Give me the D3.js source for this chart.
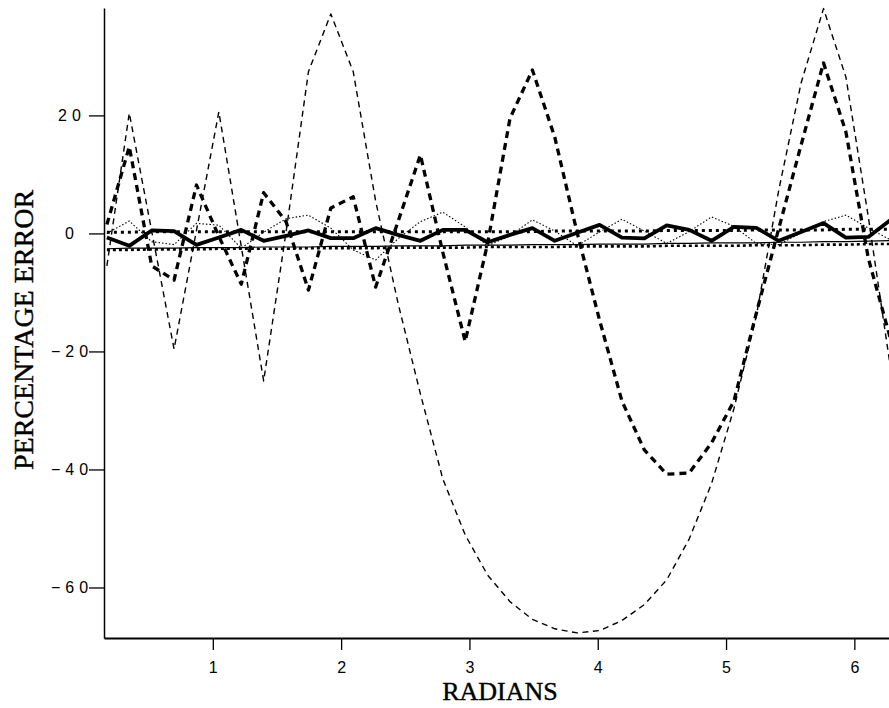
<!DOCTYPE html>
<html>
<head>
<meta charset="utf-8">
<script src="https://cdnjs.cloudflare.com/ajax/libs/d3/7.8.5/d3.min.js"></script>
<style>
  body { margin: 0; background: #fff; }
  .tick text { font-family: "Liberation Sans", Arial, sans-serif; }
</style>
</head>
<body>
<div id="chart"></div>
<script>
// sample angles (degrees), one point every 10 degrees
var degrees = [10,20,30,40,50,60,70,80,90,100,110,120,130,140,150,160,170,180,
               190,200,210,220,230,240,250,260,270,280,290,300,310,320,330,340,350,360];

var thinDashed = [-5.5,20.4,0.4,-19.6,0.5,20.6,-2.2,-25,0.2,27.4,37.2,27.4,5.5,-11.8,-27.2,-41.6,-51.1,-57.9,
                  -62.4,-65.4,-67,-67.7,-67.3,-65.6,-62.9,-58.7,-51.8,-42.4,-29.7,-14,7.3,25.5,38.1,26.5,2.8,-23];
var thickDashed = [1.5,14.7,-5.5,-7.9,8.2,-0.5,-8.6,6.9,2.0,-9.6,4.3,6.2,-9.1,2.0,13.3,-3.2,-18.3,-1.7,
                   19.5,27.7,16.3,0.1,-14.7,-28.4,-36.7,-40.8,-40.6,-35.5,-28.4,-13.5,0.8,15,28.9,17.2,-4.2,-18];
var thickSolid = [-0.7,-2.1,0.5,0.4,-1.95,-0.7,0.6,-1.25,-0.4,0.5,-0.8,-0.8,0.9,-0.25,-1.25,0.6,0.6,-1.5,
                  -0.25,0.9,-1.25,0.1,1.45,-0.7,-0.85,1.35,0.6,-1.25,1.1,0.95,-1.25,0.25,1.75,-0.7,-0.6,2.3];
var thinDotted = [0,2.1,-1.4,-1.9,1.7,1.4,-2.5,0.2,2.5,3.1,0.9,-2.8,-4.5,-0.9,2.0,3.6,1.1,-2.1,
                  -0.4,2.3,0.4,-2.1,0.25,2.4,0.4,-1.7,0.3,2.8,1.2,-1.7,-1.9,0.1,2.0,3.1,0.9,-1.1];
var upperDotted = [0.2,0.2,0.3,0.3,0.3,0.3,0.3,0.3,0.3,0.3,0.3,0.3,0.3,0.3,0.3,0.3,0.3,0.3,
                   0.3,0.3,0.4,0.4,0.4,0.4,0.4,0.5,0.5,0.5,0.5,0.6,0.6,0.6,0.6,0.7,0.7,0.7];
var lowerDotted = [-2.8,-2.8,-2.7,-2.7,-2.7,-2.6,-2.6,-2.6,-2.6,-2.5,-2.5,-2.5,-2.5,-2.4,-2.4,-2.4,-2.4,-2.3,
                   -2.3,-2.3,-2.3,-2.2,-2.2,-2.2,-2.2,-2.1,-2.1,-2.1,-2.1,-2.0,-2.0,-2.0,-1.9,-1.9,-1.8,-1.8];
var thinSolid = [-2.6,-2.5,-2.5,-2.5,-2.4,-2.4,-2.4,-2.3,-2.3,-2.3,-2.2,-2.2,-2.2,-2.1,-2.1,-2.1,-2.0,-2.0,
                 -2.0,-1.9,-1.9,-1.9,-1.8,-1.8,-1.8,-1.7,-1.7,-1.6,-1.6,-1.6,-1.5,-1.5,-1.4,-1.4,-1.3,-1.2];

var xTicks = [1, 2, 3, 4, 5, 6];
var yTicks = [20, 0, -20, -40, -60];

var w = 889;
var h = 708;

var x = d3.scaleLinear().domain([0.152, 6.27]).range([104, 889]);
var y = d3.scaleLinear().domain([-68.56, 38.2]).range([638, 8]);

var svg = d3.select('#chart')
  .append("svg")
  .attr("width", w)
  .attr("height", h)
  .style("background", "#fff");

svg.append("clipPath").attr("id", "plotclip")
  .append("rect")
  .attr("x", 104).attr("y", 0)
  .attr("width", 889 - 104).attr("height", 640);

// series, drawn from the bottom layer up
var series = [
  {values: thinSolid,   width: 1.2, dash: null},
  {values: lowerDotted, width: 2.6, dash: "3,3"},
  {values: upperDotted, width: 3,   dash: "3,4"},
  {values: thinDotted,  width: 1.1, dash: "1.5,2"},
  {values: thinDashed,  width: 1.4, dash: "6,4.5"},
  {values: thickDashed, width: 3.3, dash: "7,5"},
  {values: thickSolid,  width: 3.8, dash: null}
];

var line = d3.line()
  .x(function(d) { return x(d[0]); })
  .y(function(d) { return y(d[1]); });

var g = svg.append("g").attr("clip-path", "url(#plotclip)");

series.forEach(function(s) {
  var pts = degrees.map(function(deg, i) {
    return [deg * Math.PI / 180, s.values[i]];
  });
  g.append("path")
    .datum(pts)
    .attr("d", line)
    .attr("fill", "none")
    .attr("stroke", "#000")
    .attr("stroke-width", s.width)
    .attr("stroke-linejoin", "round")
    .attr("stroke-dasharray", s.dash);
});

// axes
var yAxis = svg.append("g")
  .attr("transform", "translate(104,0)")
  .call(d3.axisLeft(y).tickValues(yTicks).tickFormat(d3.format("d")).tickSize(15).tickSizeOuter(0));
yAxis.select(".domain").attr("stroke-width", 1.5);
yAxis.selectAll(".tick line").attr("stroke-width", 1.3);
yAxis.selectAll(".tick text")
  .attr("x", -32)
  .attr("text-anchor", "middle")
  .style("font-size", "16px")
  .style("letter-spacing", "5px")
  .attr("fill", "#000");

var xAxis = svg.append("g")
  .attr("transform", "translate(0,638)")
  .call(d3.axisBottom(x).tickValues(xTicks).tickFormat(d3.format("d")).tickSize(12).tickSizeOuter(0));
xAxis.select(".domain").attr("stroke-width", 2);
xAxis.selectAll(".tick line").attr("stroke-width", 1.3);
xAxis.selectAll(".tick text")
  .attr("y", 24)
  .style("font-size", "16px")
  .attr("fill", "#000");

// axis titles
svg.append("text")
  .attr("transform", "translate(33,330) rotate(-90)")
  .attr("text-anchor", "middle")
  .attr("stroke", "#000")
  .attr("stroke-width", 0.4)
  .style("font-family", "'Liberation Serif', 'Times New Roman', serif")
  .style("font-size", "28px")
  .text("PERCENTAGE ERROR");

svg.append("text")
  .attr("x", 500)
  .attr("y", 700)
  .attr("text-anchor", "middle")
  .attr("stroke", "#000")
  .attr("stroke-width", 0.4)
  .style("font-family", "'Liberation Serif', 'Times New Roman', serif")
  .style("font-size", "26px")
  .text("RADIANS");
</script>
</body>
</html>
